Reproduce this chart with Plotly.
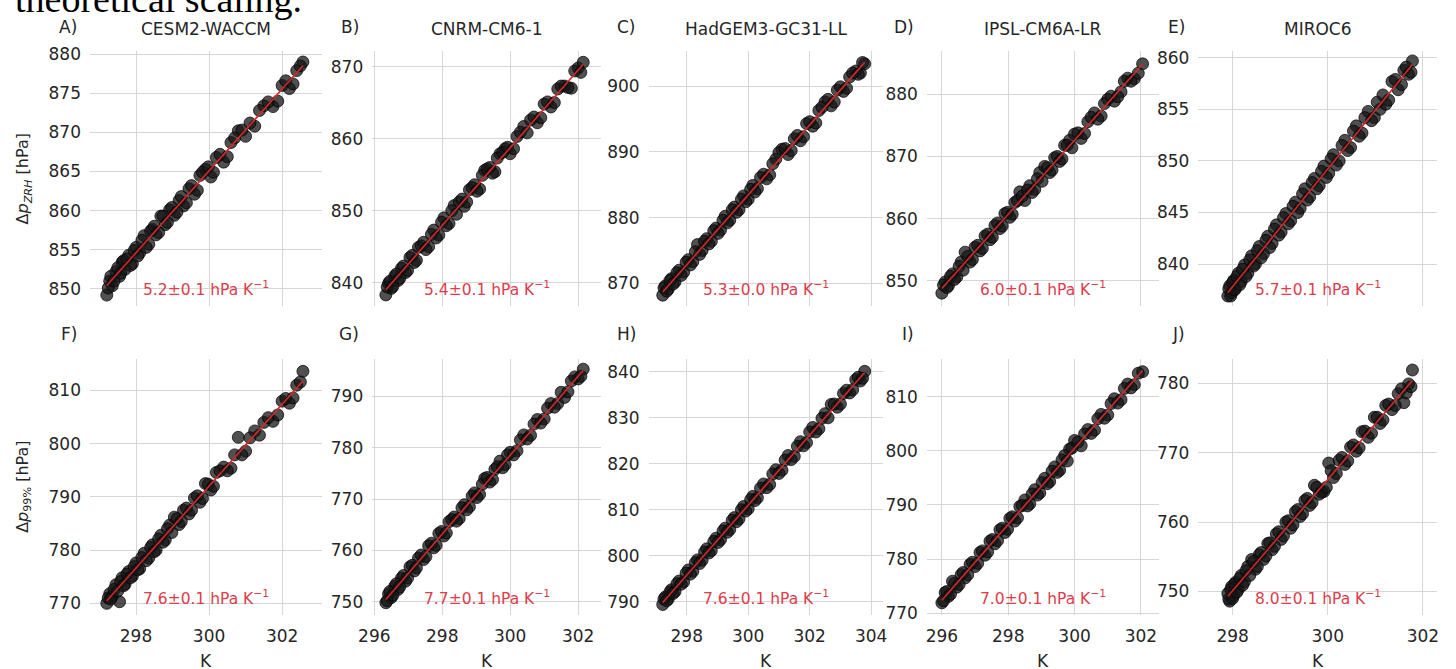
import numpy as np
import plotly.graph_objects as go

# ---------------- data ----------------
models = ["CESM2-WACCM", "CNRM-CM6-1", "HadGEM3-GC31-LL", "IPSL-CM6A-LR", "MIROC6"]
letters_top = ["A)", "B)", "C)", "D)", "E)"]
letters_bot = ["F)", "G)", "H)", "I)", "J)"]
slopes_zrh = ["5.2±0.1", "5.4±0.1", "5.3±0.0", "6.0±0.1", "5.7±0.1"]
slopes_p99 = ["7.6±0.1", "7.7±0.1", "7.6±0.1", "7.0±0.1", "8.0±0.1"]

T_cesm = [297.20, 297.28, 297.35, 297.45, 297.55, 297.62, 297.70, 297.80, 297.90, 298.00,
          298.10, 298.22, 298.35, 298.45, 298.55, 298.68, 298.80, 298.92, 299.05, 299.18,
          299.30, 299.45, 299.60, 299.75, 299.90, 300.05, 300.20, 300.40, 300.60, 300.80,
          301.00, 301.25, 301.50, 301.75, 302.00, 302.20, 302.40, 302.57,
          297.24, 297.31, 297.40, 297.50, 297.58, 297.66, 297.75, 297.85, 297.95, 298.05,
          298.16, 298.28, 298.40, 298.50, 298.62, 298.74, 298.86, 298.98, 299.12, 299.24,
          299.38, 299.52, 299.68, 299.82, 299.98, 300.12, 300.30, 300.50, 300.70, 300.90,
          301.12, 301.38, 301.62, 301.88, 302.10, 302.30, 302.50]
zrh_cesm = [849.2, 851.0, 850.4, 852.2, 851.6, 853.4, 852.5, 854.3, 853.2, 855.3,
            854.6, 856.8, 855.7, 857.6, 856.9, 859.3, 858.2, 860.1, 859.4, 861.3,
            860.6, 862.8, 862.1, 864.5, 865.3, 864.3, 866.8, 866.2, 868.7, 870.2,
            869.5, 870.8, 873.4, 873.3, 876.0, 875.6, 877.9, 879.0,
            850.1, 851.6, 851.0, 852.7, 852.0, 853.6, 853.8, 853.0, 854.9, 854.2,
            856.2, 855.3, 857.4, 858.0, 857.2, 859.3, 858.5, 860.4, 859.8, 861.8,
            861.0, 863.2, 862.6, 864.9, 865.6, 864.9, 867.2, 866.9, 869.3, 870.3,
            871.2, 872.8, 873.9, 874.0, 876.6, 876.2, 878.5]
p99_cesm = [770.0, 771.8, 771.3, 773.5, 770.3, 774.8, 773.6, 776.0, 775.1, 777.6,
            776.5, 779.4, 778.5, 781.0, 780.0, 782.8, 781.9, 784.7, 786.2, 784.8,
            787.5, 786.8, 789.8, 789.0, 792.5, 791.3, 794.6, 795.6, 795.4, 801.2,
            798.6, 802.4, 804.0, 804.2, 808.0, 807.6, 811.0, 813.6,
            771.0, 770.8, 772.6, 772.3, 774.1, 773.3, 775.5, 774.8, 776.9, 776.3,
            778.6, 778.0, 780.5, 779.7, 782.1, 781.5, 784.0, 783.3, 785.9, 785.4,
            787.9, 787.5, 790.2, 789.7, 792.4, 792.0, 794.9, 794.9, 797.9, 797.9,
            801.1, 801.6, 804.9, 805.4, 808.5, 808.6, 811.6]

T_cnrm = [296.34, 296.42, 296.50, 296.60, 296.70, 296.80, 296.92, 297.05, 297.18, 297.30,
          297.45, 297.60, 297.75, 297.90, 298.05, 298.20, 298.35, 298.50, 298.65, 298.80,
          298.95, 299.10, 299.25, 299.40, 299.55, 299.70, 299.85, 300.00, 300.20, 300.40,
          300.60, 300.80, 301.00, 301.20, 301.40, 301.60, 301.80, 302.00, 302.15,
          296.38, 296.46, 296.55, 296.65, 296.75, 296.86, 296.98, 297.12, 297.24, 297.38,
          297.52, 297.68, 297.82, 297.98, 298.12, 298.28, 298.42, 298.58, 298.72, 298.88,
          299.02, 299.18, 299.32, 299.48, 299.62, 299.78, 299.92, 300.10, 300.30, 300.50,
          300.70, 300.90, 301.10, 301.30, 301.50, 301.70, 301.90, 302.08]
zrh_cnrm = [838.3, 839.9, 839.2, 840.9, 840.3, 842.0, 841.4, 843.5, 842.8, 844.9,
            845.6, 845.0, 847.3, 846.6, 849.0, 848.2, 850.7, 851.2, 850.6, 852.9,
            853.6, 853.0, 855.6, 856.0, 855.4, 857.9, 858.6, 857.9, 860.3, 861.7,
            862.6, 862.2, 864.8, 864.4, 866.9, 867.3, 867.0, 869.8, 870.6,
            839.4, 840.2, 839.5, 841.2, 840.6, 842.3, 841.7, 843.8, 843.1, 845.1,
            844.6, 846.7, 846.2, 848.4, 847.9, 850.0, 849.5, 851.6, 851.2, 853.2,
            852.7, 854.9, 855.8, 855.2, 857.3, 858.1, 858.8, 858.6, 860.9, 860.8,
            863.0, 862.9, 865.1, 865.0, 867.3, 867.1, 869.4, 869.2]
p99_cnrm = [749.8, 751.5, 750.8, 753.0, 752.4, 754.6, 754.0, 756.8, 756.0, 758.5,
            758.2, 760.9, 760.5, 763.3, 762.8, 765.6, 766.5, 766.2, 768.9, 768.5,
            771.2, 770.9, 774.0, 773.3, 775.8, 777.4, 776.7, 779.1, 779.4, 782.5,
            782.4, 785.5, 785.6, 788.6, 788.6, 789.8, 793.0, 793.4, 795.3,
            750.2, 752.0, 751.3, 753.5, 752.9, 755.1, 754.6, 757.1, 756.6, 759.1,
            758.8, 761.4, 761.0, 763.7, 763.4, 766.0, 765.7, 768.3, 767.9, 770.6,
            770.3, 772.9, 774.2, 773.8, 776.3, 776.1, 778.6, 778.6, 781.5, 781.7,
            784.6, 784.8, 787.7, 787.9, 790.8, 790.9, 793.8, 793.9]

T_had = [297.22, 297.30, 297.40, 297.50, 297.62, 297.75, 297.90, 298.05, 298.20, 298.35,
         298.50, 298.65, 298.80, 298.95, 299.10, 299.25, 299.40, 299.55, 299.70, 299.85,
         300.00, 300.15, 300.30, 300.50, 300.70, 300.90, 301.10, 301.30, 301.50, 301.70,
         301.90, 302.10, 302.30, 302.50, 302.70, 302.90, 303.10, 303.30, 303.50, 303.65, 303.79,
         297.26, 297.35, 297.45, 297.56, 297.68, 297.82, 297.98, 298.12, 298.28, 298.42,
         298.58, 298.72, 298.88, 299.02, 299.18, 299.32, 299.48, 299.62, 299.78, 299.92,
         300.08, 300.22, 300.40, 300.60, 300.80, 301.00, 301.20, 301.40, 301.60, 301.80,
         302.00, 302.20, 302.40, 302.60, 302.80, 303.00, 303.20, 303.40, 303.58, 303.72]
zrh_had = [868.2, 869.6, 869.1, 870.7, 870.2, 872.0, 871.7, 873.6, 873.3, 875.9,
           875.0, 876.8, 876.4, 878.4, 878.1, 880.2, 879.6, 881.6, 881.2, 883.3,
           882.8, 884.9, 884.4, 886.6, 886.5, 888.9, 890.4, 889.6, 892.0, 891.7,
           894.3, 893.9, 896.3, 897.6, 897.0, 899.4, 899.2, 901.4, 902.3, 902.0, 903.4,
           869.3, 868.8, 870.4, 869.9, 871.6, 871.2, 873.2, 872.8, 874.8, 874.4,
           876.4, 876.0, 878.0, 877.6, 879.6, 879.2, 881.2, 880.8, 882.8, 882.4,
           884.3, 883.9, 886.1, 885.9, 888.2, 889.9, 890.5, 890.2, 892.5, 892.3,
           894.6, 894.4, 896.8, 898.0, 897.6, 899.9, 899.7, 902.0, 901.8, 903.6]
p99_had = [789.4, 791.0, 790.6, 792.6, 792.2, 794.5, 794.3, 796.9, 796.6, 799.1,
           799.0, 801.5, 801.1, 803.8, 803.5, 806.0, 805.7, 808.3, 808.0, 810.7,
           810.2, 812.9, 812.6, 815.6, 815.5, 818.7, 818.6, 821.8, 821.6, 824.8,
           824.6, 827.9, 827.6, 830.9, 832.9, 832.3, 835.3, 835.4, 838.3, 838.0, 840.1,
           790.6, 790.2, 792.1, 791.8, 793.9, 793.8, 796.2, 796.0, 798.5, 798.3,
           800.8, 800.6, 803.1, 802.9, 805.4, 805.1, 807.7, 807.4, 810.0, 809.7,
           812.2, 812.0, 814.7, 814.8, 817.8, 817.9, 820.8, 820.9, 823.8, 823.9,
           826.9, 826.9, 829.9, 830.0, 833.0, 833.0, 836.0, 836.1, 838.8, 838.6]

T_ipsl = [296.00, 296.10, 296.20, 296.32, 296.45, 296.58, 296.70, 296.85, 297.00, 297.15,
          297.30, 297.45, 297.60, 297.75, 297.90, 298.05, 298.20, 298.35, 298.50, 298.65,
          298.80, 298.95, 299.10, 299.25, 299.40, 299.55, 299.70, 299.85, 300.00, 300.20,
          300.40, 300.60, 300.80, 301.00, 301.20, 301.40, 301.60, 301.80, 302.05,
          296.05, 296.15, 296.26, 296.38, 296.52, 296.64, 296.78, 296.92, 297.08, 297.22,
          297.38, 297.52, 297.68, 297.82, 297.98, 298.12, 298.28, 298.42, 298.58, 298.72,
          298.88, 299.02, 299.18, 299.32, 299.48, 299.62, 299.78, 299.92, 300.10, 300.30,
          300.50, 300.70, 300.90, 301.10, 301.30, 301.50, 301.70, 301.92]
zrh_ipsl = [848.0, 849.8, 849.2, 851.1, 850.6, 853.0, 854.6, 853.0, 855.4, 854.8,
            857.2, 856.6, 858.9, 858.4, 860.8, 860.2, 862.6, 864.3, 862.9, 865.3,
            864.7, 867.4, 868.4, 867.4, 869.8, 869.2, 871.8, 872.6, 873.6, 872.9,
            875.6, 877.0, 876.5, 879.2, 878.9, 880.4, 882.6, 882.5, 884.9,
            849.3, 848.9, 850.7, 850.2, 852.3, 851.7, 853.9, 853.4, 855.7, 855.2,
            857.5, 857.0, 859.3, 858.8, 861.0, 860.7, 862.9, 863.6, 864.6, 864.2,
            866.4, 866.0, 868.2, 867.8, 870.0, 869.6, 871.8, 871.4, 873.8, 873.7,
            876.3, 876.0, 878.5, 879.7, 879.6, 882.1, 882.1, 883.4]
p99_ipsl = [771.9, 773.8, 773.1, 775.9, 774.8, 777.1, 776.5, 779.0, 778.6, 781.2,
            780.7, 783.3, 782.8, 785.4, 784.9, 787.5, 787.0, 789.7, 790.9, 790.2,
            792.8, 792.2, 794.9, 794.3, 797.0, 796.4, 799.1, 800.3, 801.9, 800.9,
            803.9, 803.8, 806.7, 806.6, 809.6, 809.4, 812.3, 812.2, 814.6,
            772.3, 774.0, 773.5, 775.5, 775.3, 777.5, 777.1, 779.4, 779.2, 781.5,
            781.3, 783.6, 783.4, 785.7, 785.5, 787.8, 787.6, 789.9, 789.8, 792.0,
            791.8, 794.1, 793.9, 796.2, 796.0, 798.3, 798.1, 800.5, 801.6, 803.1,
            803.2, 805.9, 806.0, 808.7, 808.8, 811.5, 811.6, 814.3]

T_miroc = [297.90, 297.94, 297.98, 298.02, 298.06, 298.12, 298.18, 298.25, 298.32, 298.40,
           298.48, 298.56, 298.65, 298.74, 298.83, 298.92, 299.02, 299.12, 299.22, 299.32,
           299.42, 299.52, 299.62, 299.72, 299.82, 299.92, 300.02, 300.12, 300.24, 300.36,
           300.48, 300.60, 300.72, 300.85, 300.98, 301.10, 301.22, 301.35, 301.48, 301.60,
           301.70, 301.78,
           297.92, 297.96, 298.00, 298.04, 298.09, 298.15, 298.21, 298.28, 298.36, 298.44,
           298.52, 298.60, 298.70, 298.78, 298.88, 298.97, 299.07, 299.17, 299.27, 299.37,
           299.47, 299.57, 299.67, 299.77, 299.87, 299.97, 300.07, 300.18, 300.30, 300.42,
           300.54, 300.66, 300.78, 300.92, 301.04, 301.16, 301.28, 301.42, 301.55, 301.65,
           301.75]
zrh_miroc = [836.9, 837.9, 837.2, 838.4, 837.6, 839.1, 838.3, 839.9, 839.1, 840.8,
             840.0, 841.7, 841.0, 842.7, 842.0, 843.8, 843.1, 844.9, 844.2, 846.0,
             845.4, 847.3, 846.5, 848.3, 847.6, 849.5, 848.8, 850.6, 850.0, 852.0,
             851.3, 853.4, 852.7, 854.8, 854.2, 855.0, 855.5, 857.7, 856.9, 858.8,
             858.4, 859.7,
             837.6, 836.9, 838.2, 837.5, 838.8, 838.0, 839.5, 838.8, 840.4, 839.8,
             841.3, 840.6, 842.3, 841.6, 843.4, 842.8, 844.5, 843.9, 845.6, 845.0,
             846.8, 846.2, 847.9, 847.3, 849.0, 848.4, 850.2, 849.6, 851.5, 851.0,
             852.9, 852.4, 854.2, 853.9, 855.7, 856.4, 855.9, 857.9, 857.4, 859.1,
             858.6]
p99_miroc = [749.7, 748.6, 750.7, 749.4, 751.3, 750.3, 752.3, 751.4, 753.6, 754.6,
             753.2, 755.3, 754.6, 756.9, 756.0, 758.3, 757.5, 760.0, 759.1, 761.5,
             760.8, 763.1, 762.4, 765.3, 764.0, 764.4, 768.5, 766.4, 768.9, 768.3,
             770.8, 770.2, 773.0, 772.2, 775.1, 774.2, 776.8, 776.2, 778.5, 777.2,
             779.9, 781.9,
             748.9, 750.3, 749.0, 751.0, 749.9, 751.9, 750.9, 753.0, 752.3, 754.3,
             753.6, 755.6, 755.1, 757.0, 756.5, 758.6, 758.0, 760.2, 759.6, 761.8,
             761.2, 763.4, 762.8, 765.0, 764.3, 765.0, 767.4, 767.0, 769.3, 768.8,
             771.1, 770.7, 773.1, 772.8, 775.1, 774.7, 777.0, 776.8, 779.2, 778.6,
             779.5]

T_all = [T_cesm, T_cnrm, T_had, T_ipsl, T_miroc]
zrh_all = [zrh_cesm, zrh_cnrm, zrh_had, zrh_ipsl, zrh_miroc]
p99_all = [p99_cesm, p99_cnrm, p99_had, p99_ipsl, p99_miroc]

x_ticks = [[298, 300, 302], [296, 298, 300, 302], [298, 300, 302, 304],
           [296, 298, 300, 302], [298, 300, 302]]
y_ticks_zrh = [[850, 855, 860, 865, 870, 875, 880], [840, 850, 860, 870],
               [870, 880, 890, 900], [850, 860, 870, 880], [840, 845, 850, 855, 860]]
y_ticks_p99 = [[770, 780, 790, 800, 810], [750, 760, 770, 780, 790],
               [790, 800, 810, 820, 830, 840], [770, 780, 790, 800, 810], [750, 760, 770, 780]]

# ---------------- layout settings ----------------
W, H = 1456, 669
col_px = [(77, 312), (363, 595), (643, 880), (925, 1160), (1200, 1442)]
row_px = [(45, 306), (360, 622)]
x_ranges = [[296.74, 303.09], [295.94, 302.68], [296.76, 304.37], [295.55, 302.54], [297.28, 302.30]]
y_ranges_zrh = [[847.79, 880.41], [836.74, 872.17], [866.53, 905.35], [845.91, 886.97], [835.92, 860.66]]
y_ranges_p99 = [[767.8, 815.93], [747.4, 797.3], [787.1, 842.8], [769.65, 816.95], [746.6, 783.5]]

TXT = "#262626"
FONT = "DejaVu Sans"
RED = "#d62728"
RED_TXT = "#dc3d4c"
GRID = "#d6d6d6"


def px_x(p):
    return p / W


def px_y(p):
    return 1 - p / H


fig = go.Figure()
annotations = []

for r in range(2):
    for c in range(5):
        k = r * 5 + c
        suf = "" if k == 0 else str(k + 1)
        xs = T_all[c]
        ys = zrh_all[c] if r == 0 else p99_all[c]
        fig.add_trace(go.Scatter(
            x=xs, y=ys, mode="markers", xaxis="x" + suf, yaxis="y" + suf,
            marker=dict(size=12, color="rgba(22,22,22,0.75)",
                        line=dict(width=1, color="rgba(0,0,0,0.7)")),
            showlegend=False, hoverinfo="skip"))
        coef = np.polyfit(xs, ys, 1)
        lx = [min(xs), max(xs)]
        ly = [coef[0] * v + coef[1] for v in lx]
        fig.add_trace(go.Scatter(
            x=lx, y=ly, mode="lines", xaxis="x" + suf, yaxis="y" + suf,
            line=dict(color=RED, width=1.6), showlegend=False, hoverinfo="skip"))

        x0, x1 = col_px[c]
        y0, y1 = row_px[r]
        fig.layout["xaxis" + suf] = dict(
            domain=[px_x(x0), px_x(x1)], range=x_ranges[c], anchor="y" + suf,
            tickvals=x_ticks[c], showticklabels=(r == 1),
            tickfont=dict(family=FONT, size=17, color=TXT),
            showgrid=True, gridcolor=GRID, gridwidth=1.2,
            zeroline=False, showline=False, ticks="", ticklabelstandoff=9)
        fig.layout["yaxis" + suf] = dict(
            domain=[px_y(y1), px_y(y0)],
            range=(y_ranges_zrh[c] if r == 0 else y_ranges_p99[c]), anchor="x" + suf,
            tickvals=(y_ticks_zrh[c] if r == 0 else y_ticks_p99[c]),
            tickfont=dict(family=FONT, size=17, color=TXT),
            showgrid=True, gridcolor=GRID, gridwidth=1.2,
            zeroline=False, showline=False, ticks="", ticklabelstandoff=8)

        # slope text
        slope = slopes_zrh[c] if r == 0 else slopes_p99[c]
        annotations.append(dict(
            x=px_x((x0 + x1) / 2), y=px_y(y1 - 18), xref="paper", yref="paper",
            text=slope + " hPa K<sup>−1</sup>", showarrow=False,
            xanchor="center", yanchor="middle",
            font=dict(family=FONT, size=15.5, color=RED_TXT)))
        # panel letter
        letter = letters_top[c] if r == 0 else letters_bot[c]
        annotations.append(dict(
            x=px_x(x0 - 11), y=px_y(y0 - 25), xref="paper", yref="paper",
            text=letter, showarrow=False, xanchor="right", yanchor="middle",
            font=dict(family=FONT, size=17, color=TXT)))
        if r == 0:
            annotations.append(dict(
                x=px_x((x0 + x1) / 2), y=px_y(22), xref="paper", yref="paper",
                text=models[c], showarrow=False, xanchor="center", yanchor="middle",
                font=dict(family=FONT, size=17, color=TXT)))
        else:
            annotations.append(dict(
                x=px_x((x0 + x1) / 2), y=px_y(669), xref="paper", yref="paper",
                text="K", showarrow=False, xanchor="center", yanchor="middle",
                font=dict(family=FONT, size=17, color=TXT)))

# y-axis titles
annotations.append(dict(
    x=px_x(10), y=px_y((row_px[0][0] + row_px[0][1]) / 2), xref="paper", yref="paper",
    text="Δ<i>p</i><sub><i>ZRH</i></sub> [hPa]", showarrow=False, textangle=-90,
    xanchor="center", yanchor="middle", font=dict(family=FONT, size=16, color=TXT)))
annotations.append(dict(
    x=px_x(10), y=px_y((row_px[1][0] + row_px[1][1]) / 2), xref="paper", yref="paper",
    text="Δ<i>p</i><sub>99%</sub> [hPa]", showarrow=False, textangle=-90,
    xanchor="center", yanchor="middle", font=dict(family=FONT, size=16, color=TXT)))

# cut-off caption text at the very top
annotations.append(dict(
    x=-0.001, y=1 + 8 / H, xref="paper", yref="paper", text="theoretical scaling.",
    showarrow=False, xanchor="left", yanchor="middle",
    font=dict(family="Liberation Serif", size=38, color="#000000")))

fig.update_layout(
    width=W, height=H, margin=dict(l=0, r=0, t=0, b=0),
    paper_bgcolor="white", plot_bgcolor="white",
    annotations=annotations, showlegend=False)

fig.write_html("out.html")
